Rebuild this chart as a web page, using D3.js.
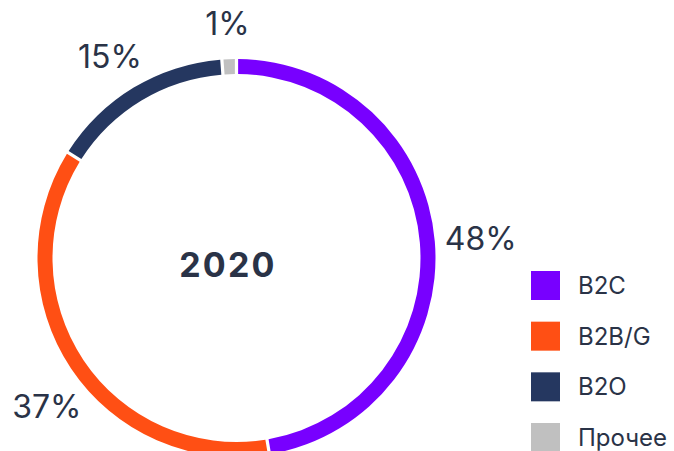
<!DOCTYPE html>
<html>
<head>
<meta charset="utf-8">
<script src="https://cdn.jsdelivr.net/npm/d3@7"></script>
<style>
  html, body { margin: 0; padding: 0; background: #ffffff; }
  svg { display: block; }
  text { font-family: Inter, "Noto Sans", sans-serif; fill: #2a3347; }
</style>
</head>
<body>
<svg id="chart" width="674" height="451"></svg>
<script>
// Revenue structure by segment, 2020
const categories = ["B2C", "B2B/G", "B2O", "Прочее"];
const shares = [48, 37, 15, 1];
const shareLabels = ["48%", "37%", "15%", "1%"];
const yearLabel = "2020";
const colors = ["#7800ff", "#ff4f14", "#253760", "#c0c0c0"];

const width = 674, height = 451;
const svg = d3.select("#chart");
const cx = 236.5, cy = 258;
const outerR = 199, innerR = 184;
// labels sit on an ellipse around the ring
const labelRx = 245, labelRy = 235;
const edgeMargin = 12;

const data = categories.map((c, i) => ({ category: c, value: shares[i], label: shareLabels[i] }));

const color = d3.scaleOrdinal().domain(categories).range(colors);

const pie = d3.pie().sort(null).value(d => d.value).padAngle(0.012);
const arc = d3.arc().innerRadius(innerR).outerRadius(outerR);

const g = svg.append("g").attr("transform", `translate(${cx},${cy})`);
const arcs = pie(data);

g.selectAll("path.slice")
  .data(arcs)
  .join("path")
  .attr("class", "slice")
  .attr("d", arc)
  .attr("fill", d => color(d.data.category));

const midAngle = d => (d.startAngle + d.endAngle) / 2;
const onEllipse = a => [Math.sin(a) * labelRx, -Math.cos(a) * labelRy];

const pct = g.selectAll("text.pct")
  .data(arcs)
  .join("text")
  .attr("class", "pct")
  .attr("text-anchor", "middle")
  .attr("dy", "0.36em")
  .style("font-size", "32px")
  .style("font-weight", 400)
  .text(d => d.data.label);

// place each label at its slice's middle angle; if it would cross the
// left or right edge, slide it along the ellipse toward the vertical axis
pct.each(function(d) {
  const half = this.getComputedTextLength() / 2;
  let a = midAngle(d);
  const fits = ang => {
    const x = cx + onEllipse(ang)[0];
    return x - half >= edgeMargin && x + half <= width - edgeMargin;
  };
  const target = Math.abs(a - Math.PI) < Math.PI / 2 ? Math.PI : (a > Math.PI ? 2 * Math.PI : 0);
  const step = 0.004 * Math.sign(target - a);
  let guard = 0;
  while (!fits(a) && guard++ < 500) a += step;
  const [x, y] = onEllipse(a);
  d3.select(this).attr("x", x).attr("y", y);
});

g.append("text")
  .attr("x", -8.5)
  .attr("y", 7)
  .attr("dy", "0.36em")
  .attr("text-anchor", "middle")
  .style("font-size", "34px")
  .style("font-weight", 700)
  .style("letter-spacing", "2.2px")
  .text(yearLabel);

// Legend
const legend = svg.append("g").attr("transform", "translate(531,271)");
const legendY = d3.scalePoint().domain(categories).range([0, 152]);

const item = legend.selectAll("g.item")
  .data(categories)
  .join("g")
  .attr("class", "item")
  .attr("transform", d => `translate(0,${legendY(d)})`);

item.append("rect")
  .attr("width", 29)
  .attr("height", 29)
  .attr("fill", d => color(d));

item.append("text")
  .attr("x", 47)
  .attr("y", 14.5)
  .attr("dy", "0.36em")
  .style("font-size", "24px")
  .style("font-weight", 400)
  .text(d => d);
</script>
</body>
</html>
